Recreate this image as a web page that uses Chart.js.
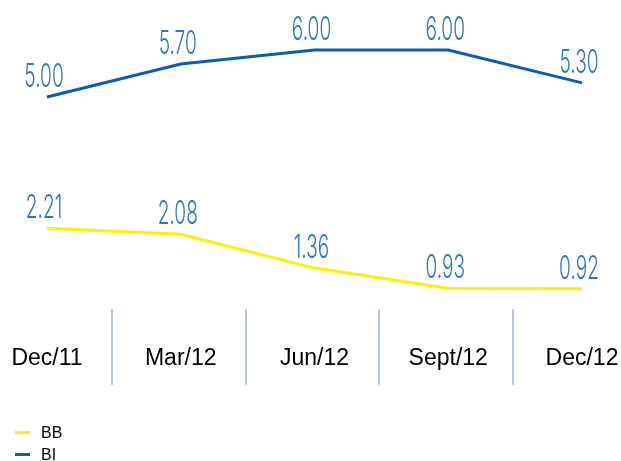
<!DOCTYPE html>
<html>
<head>
<meta charset="utf-8">
<script src="https://cdn.jsdelivr.net/npm/chart.js@4.4.1/dist/chart.umd.min.js"></script>
<style>
  html, body { margin: 0; padding: 0; background: #fff; overflow: hidden; }
  #wrap { position: relative; width: 621px; height: 461px; }
  #legend { position: absolute; left: 15px; top: 423px; font: 16px "Liberation Sans", Arial, sans-serif; color: #000; }
  #legend .item { height: 22px; line-height: 20px; white-space: nowrap; }
  #legend .swatch { display: inline-block; width: 15px; height: 3px; vertical-align: middle; margin-right: 11px; position: relative; top: -1px; }
</style>
</head>
<body>
<div id="wrap">
  <canvas id="rateChart" width="621" height="461"></canvas>
  <div id="legend"></div>
</div>
<script>
// ข้อมูลของกราฟ
const periods = ["Dec/11", "Mar/12", "Jun/12", "Sept/12", "Dec/12"];
const bbValues = [2.21, 2.08, 1.36, 0.93, 0.92];
const biValues = [5.00, 5.70, 6.00, 6.00, 5.30];

const BB_COLOR = '#fff000';
const BI_COLOR = '#0c5fa9';
const LABEL_COLOR = '#2f78bd';

// วาดตัวเลขบนจุด (ฟอนต์แคบ ๆ)
const valueLabels = {
  id: 'valueLabels',
  afterDatasetsDraw(chart) {
    const ctx = chart.ctx;
    ctx.save();
    ctx.fillStyle = LABEL_COLOR;
    ctx.font = '300 33px Inter, "Liberation Sans", sans-serif';
    ctx.textAlign = 'center';
    ctx.textBaseline = 'alphabetic';
    chart.data.datasets.forEach((ds, i) => {
      const meta = chart.getDatasetMeta(i);
      meta.data.forEach((pt, j) => {
        ctx.save();
        ctx.translate(pt.x - 3, pt.y - 10);
        ctx.scale(0.58, 1);
        ctx.fillText(ds.data[j].toFixed(2), 0, 0);
        ctx.restore();
      });
    });
    ctx.restore();
  }
};

// เส้นคั่นระหว่างหมวด
const separators = {
  id: 'separators',
  afterDraw(chart) {
    const xs = chart.scales.x;
    const ctx = chart.ctx;
    ctx.save();
    ctx.strokeStyle = '#b4c6e7';
    ctx.lineWidth = 2;
    for (let i = 0; i < periods.length - 1; i++) {
      const mid = (xs.getPixelForValue(i) + xs.getPixelForValue(i + 1)) / 2;
      ctx.beginPath();
      ctx.moveTo(Math.round(mid) - 2, 309);
      ctx.lineTo(Math.round(mid) - 2, 385);
      ctx.stroke();
    }
    ctx.restore();
  }
};

const chart = new Chart(document.getElementById('rateChart'), {
  type: 'line',
  data: {
    labels: periods,
    datasets: [
      { label: 'BB', data: bbValues, borderColor: BB_COLOR, backgroundColor: BB_COLOR, borderWidth: 3, pointRadius: 0, tension: 0 },
      { label: 'BI', data: biValues, borderColor: BI_COLOR, backgroundColor: BI_COLOR, borderWidth: 3, pointRadius: 0, tension: 0 }
    ]
  },
  options: {
    responsive: false,
    animation: false,
    layout: { padding: { left: 47, right: 39, top: 26.5, bottom: 0 } },
    plugins: {
      legend: { display: false },
      tooltip: { enabled: false }
    },
    scales: {
      x: {
        offset: false,
        grid: { display: false, drawTicks: false },
        border: { display: false },
        ticks: {
          color: '#000',
          padding: 36,
          font: { family: '"Liberation Sans", Arial, sans-serif', size: 23 },
          maxRotation: 0,
          autoSkip: false
        },
        afterFit(scale) {
          scale.height = 152.5;
          scale.paddingLeft = 0;
          scale.paddingRight = 0;
        }
      },
      y: {
        display: false,
        min: 0.5,
        max: 6.5
      }
    }
  },
  plugins: [valueLabels, separators]
});

// ตำนานแบบ HTML
document.getElementById('legend').innerHTML = chart.data.datasets.map(ds =>
  `<div class="item"><span class="swatch" style="background:${ds.borderColor}"></span>${ds.label}</div>`
).join('');
</script>
</body>
</html>
